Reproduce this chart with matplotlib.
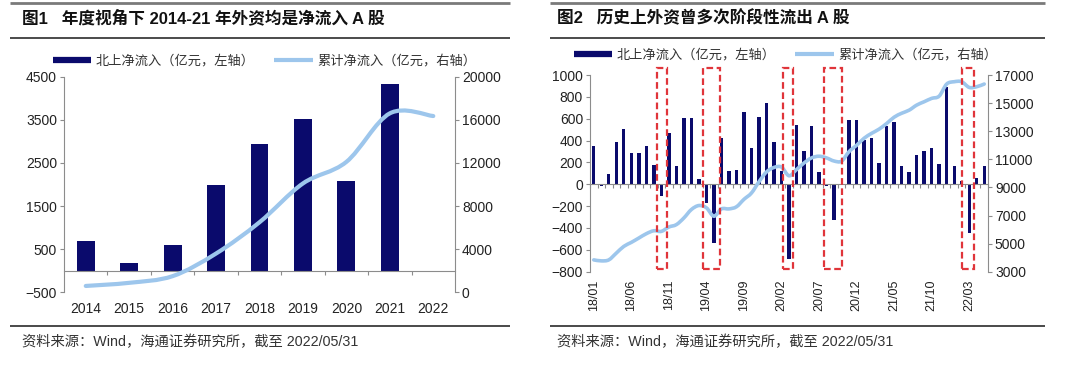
import matplotlib
matplotlib.use('Agg')
import matplotlib.pyplot as plt
from matplotlib.path import Path
from matplotlib.patches import PathPatch, Rectangle
from matplotlib.lines import Line2D
import matplotlib.transforms as mtransforms
import numpy as np

plt.rcParams['font.family'] = ['Liberation Sans', 'Noto Sans CJK SC', 'DejaVu Sans']

# ---------------- data ----------------
years = ['2014', '2015', '2016', '2017', '2018', '2019', '2020', '2021', '2022']
annual_flow = [680, 178, 603, 1994, 2944, 3516, 2087, 4328, -20]
annual_cum = [590, 880, 1500, 3600, 6500, 10100, 12100, 16600, 16350]

months = [f"{y:02d}/{m:02d}" for y in range(18, 23) for m in range(1, 13)][:53]
monthly_flow = [350, -20, 95, 390, 510, 285, 285, 355, 175, -105,
                470, 165, 610, 605, 45, -175, -535, 425, 120, 130,
                660, 329, 615, 745, 391, 123, -680, 545, 308, 538,
                108, -15, -330, 5, 591, 585, 406, 422, 194, 538,
                569, 163, 114, 268, 305, 329, 186, 888, 168, 34,
                -448, 55, 168]
monthly_cum = [3840, 3770, 3840, 4320, 4800, 5085, 5395, 5705, 5915, 5870,
               6180, 6350, 6825, 7425, 7710, 7550, 6950, 7470, 7470, 7620,
               8150, 8600, 9400, 10100, 10420, 10450, 9830, 10270, 10740, 11100,
               11220, 11100, 10880, 10870, 11550, 12000, 12500, 12850, 13150, 13550,
               14000, 14280, 14500, 14860, 15100, 15340, 15500, 16360, 16525, 16525,
               16120, 16170, 16360]
month_label_step = 5
# outflow episodes highlighted (start, end positions on the month axis)
box_spans = [(8.45, 9.7), (14.55, 16.85), (25.2, 26.6), (30.7, 33.0), (49.1, 50.6)]

label_bar = '北上净流入（亿元，左轴）'
label_line = '累计净流入（亿元，右轴）'
title1 = '图1   年度视角下 2014-21 年外资均是净流入 A 股'
title2 = '图2   历史上外资曾多次阶段性流出 A 股'
source = '资料来源：Wind，海通证券研究所，截至 2022/05/31'

# ---------------- style ----------------
NAVY = '#0A0A6C'
LIGHT = '#9DC6EC'
RED = '#E0353A'
GRAY = '#8C8C8C'
TXT = '#222222'
TICKFS = 10


def smooth_path(x, y):
    pts = np.column_stack([np.asarray(x, float), np.asarray(y, float)])
    verts = [pts[0]]
    codes = [Path.MOVETO]
    n = len(pts)
    for i in range(n - 1):
        p0 = pts[i - 1] if i > 0 else pts[i]
        p1 = pts[i]
        p2 = pts[i + 1]
        p3 = pts[i + 2] if i + 2 < n else pts[i + 1]
        c1 = p1 + (p2 - p0) / 6.0
        c2 = p2 - (p3 - p1) / 6.0
        verts += [c1, c2, p2]
        codes += [Path.CURVE4] * 3
    return Path(verts, codes)


fig = plt.figure(figsize=(10.8, 3.71), dpi=100)


def hline(x0, x1, y, lw, color):
    fig.add_artist(Line2D([x0, x1], [y, y], transform=fig.transFigure,
                          color=color, lw=lw, solid_capstyle='butt'))


# panel rules
for (x0, x1) in [(0.0093, 0.472), (0.509, 0.9676)]:
    hline(x0, x1, 0.9906, 2.0, '#7A7A7A')
    hline(x0, x1, 0.8968, 1.1, '#1A1A1A')
    hline(x0, x1, 0.1215, 1.2, '#2A2A2A')

fig.text(0.0205, 0.951, title1, fontsize=12, fontweight='bold', va='center', ha='left', color='#111111')
fig.text(0.5157, 0.951, title2, fontsize=12, fontweight='bold', va='center', ha='left', color='#111111')
fig.text(0.0205, 0.078, source, fontsize=10.3, va='center', ha='left', color='#333333')
fig.text(0.5157, 0.078, source, fontsize=10.3, va='center', ha='left', color='#333333')


def style_axes(ax, ax2):
    for a in (ax, ax2):
        a.spines['top'].set_visible(False)
        a.set_facecolor('none')
    ax.spines['right'].set_visible(False)
    ax2.spines['left'].set_visible(False)
    ax2.spines['bottom'].set_visible(False)
    ax.spines['left'].set_color(GRAY)
    ax2.spines['right'].set_color(GRAY)
    ax.spines['bottom'].set_color(GRAY)
    ax.spines['bottom'].set_position(('data', 0))
    ax.tick_params(axis='y', direction='out', length=3, color=GRAY, labelsize=TICKFS, labelcolor=TXT, pad=2)
    ax2.tick_params(axis='y', direction='out', length=3, color=GRAY, labelsize=TICKFS, labelcolor=TXT, pad=2)
    ax.tick_params(axis='x', direction='out', length=3, color=GRAY, labelbottom=False)
    ax2.tick_params(axis='x', bottom=False, labelbottom=False, top=False)


def legend_at(cx, cy):
    handles = [Line2D([], [], color=NAVY, lw=4.5, solid_capstyle='butt'),
               Line2D([], [], color=LIGHT, lw=3, solid_capstyle='butt')]
    fig.legend(handles, [label_bar, label_line], ncol=2, loc='center',
               bbox_to_anchor=(cx, cy), frameon=False, fontsize=9.5,
               handlelength=2.9, handletextpad=0.35, columnspacing=1.5,
               borderaxespad=0, borderpad=0, labelcolor='#333333')


# ---------------- left chart ----------------
ax = fig.add_axes([0.0593, 0.2121, 0.362, 0.5812])
ax2 = ax.twinx()
x = np.arange(len(years))
ax.bar(x, annual_flow, width=0.41, color=NAVY, zorder=2)
ax.set_xlim(-0.5, len(years) - 0.5)
ax.set_ylim(-500, 4500)
ax.set_yticks([-500, 500, 1500, 2500, 3500, 4500])
ax2.set_ylim(0, 20000)
ax2.set_yticks([0, 4000, 8000, 12000, 16000, 20000])
ax.set_xticks(np.arange(0.5, len(years) - 0.5, 1.0))
style_axes(ax, ax2)
ax2.add_patch(PathPatch(smooth_path(x, annual_cum), facecolor='none', edgecolor=LIGHT,
                        lw=3.0, capstyle='round', joinstyle='round', zorder=3))
trans = mtransforms.blended_transform_factory(ax.transData, ax.transAxes)
for xi, lab in zip(x, years):
    ax.text(xi, -0.077, lab, transform=trans, ha='center', va='center', fontsize=TICKFS, color=TXT)
legend_at(0.245, 0.8356)

# ---------------- right chart ----------------
bx = fig.add_axes([0.5463, 0.2677, 0.3685, 0.530])
bx2 = bx.twinx()
m = np.arange(len(months))
bx.bar(m, monthly_flow, width=0.45, color=NAVY, zorder=2)
bx.set_xlim(-0.5, len(months) - 0.5)
bx.set_ylim(-800, 1000)
bx.set_yticks(np.arange(-800, 1001, 200))
bx2.set_ylim(3000, 17000)
bx2.set_yticks(np.arange(3000, 17001, 2000))
bx.set_xticks(np.arange(-0.5, len(months), 1.0))
style_axes(bx, bx2)
bx2.add_patch(PathPatch(smooth_path(m, monthly_cum), facecolor='none', edgecolor=LIGHT,
                        lw=2.6, capstyle='round', joinstyle='round', zorder=3))
trans2 = mtransforms.blended_transform_factory(bx.transData, bx.transAxes)
for i in range(0, len(months), month_label_step):
    bx.text(m[i], -0.04, months[i], transform=trans2, ha='center', va='top',
            rotation=90, fontsize=9, color=TXT)
for (s, e) in box_spans:
    bx2.add_patch(Rectangle((s, -780), e - s, 1840, transform=bx.transData,
                            facecolor='none', edgecolor=RED, lw=1.6,
                            linestyle=(0, (3, 1.6)), clip_on=False, zorder=5))
legend_at(0.7273, 0.8517)

fig.savefig('out.png', dpi=100)
